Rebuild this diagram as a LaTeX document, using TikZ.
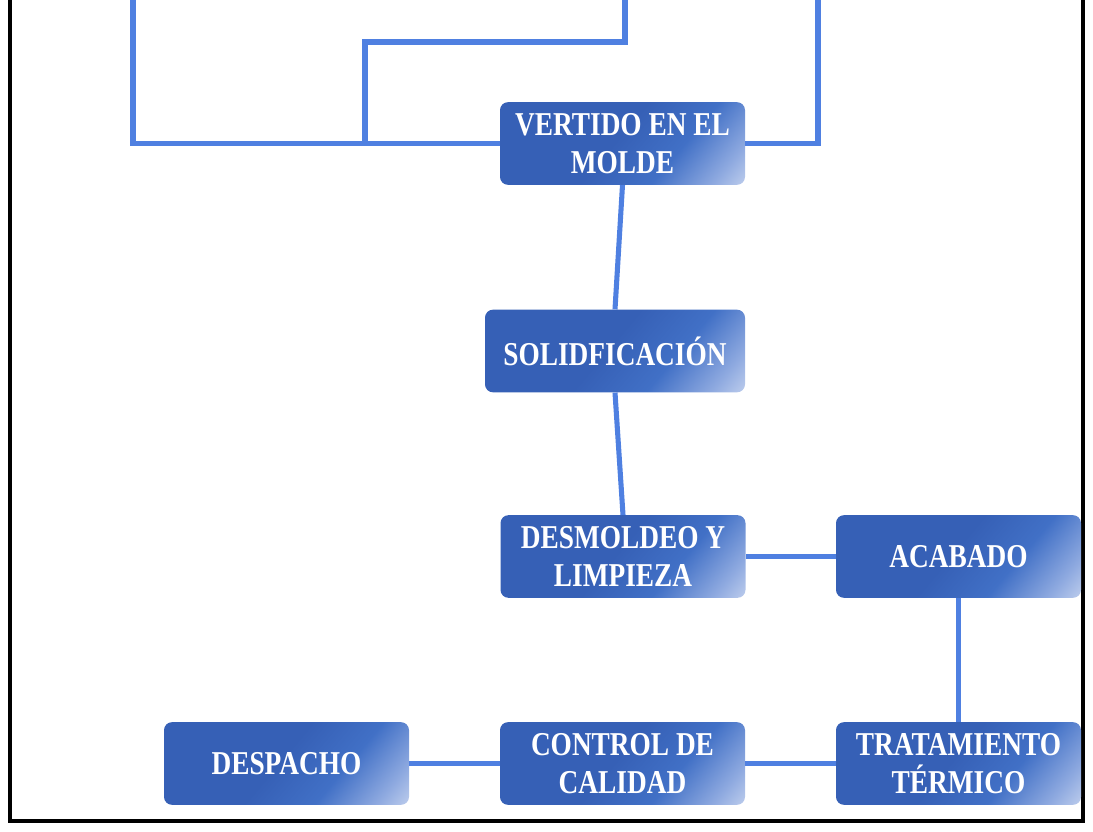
\documentclass[tikz,border=0pt]{standalone}
\usepackage{fontspec}
\setmainfont{Liberation Serif}
\newfontfamily\boxfont[FakeStretch=0.82]{Liberation Serif}
\usetikzlibrary{positioning}
\definecolor{linec}{HTML}{4F80E1}
\definecolor{bdark}{HTML}{3660B6}
\definecolor{bmid}{HTML}{4170C6}
\definecolor{blight}{HTML}{8FAAE0}
\definecolor{bwhite}{HTML}{E6ECF8}
\pgfdeclarehorizontalshading{boxshade}{100bp}{color(0bp)=(bdark); color(48bp)=(bdark); color(64bp)=(bmid); color(78bp)=(blight); color(92bp)=(bwhite); color(100bp)=(bwhite)}
\tikzset{
  stepbox/.style={rounded corners=6pt, shading=boxshade, shading angle=-40,
    minimum width=183.75pt, minimum height=62pt, inner sep=0pt, align=center,
    text=white, font=\boxfont\bfseries\fontsize{25}{28.5}\selectfont},
  conn/.style={draw=linec, line width=3.8pt},
  frame/.style={draw=black, line width=3.2pt}
}
\begin{document}
\begin{tikzpicture}[x=0.75pt,y=-0.75pt]
\useasboundingbox (0,0) rectangle (1093,832);
\begin{scope}
\clip (0,0) rectangle (1093,832);
\draw[frame] (10,-20) -- (10,821) -- (1083,821) -- (1083,-20);
\end{scope}
\node[stepbox] (vert) at (622.5,143.5) {VERTIDO EN EL\\MOLDE};
\node[stepbox, minimum width=195pt] (solid) at (615,351) {SOLIDFICACIÓN};
\node[stepbox] (desm) at (623,556.5) {DESMOLDEO Y\\LIMPIEZA};
\node[stepbox] (acab) at (958.5,556.5) {ACABADO};
\node[stepbox] (desp) at (286.5,763.5) {DESPACHO};
\node[stepbox] (ctrl) at (622.5,763.5) {CONTROL DE\\CALIDAD};
\node[stepbox] (trat) at (958.5,763.5) {TRATAMIENTO\\TÉRMICO};
\coordinate (topL) at (133,-5);
\coordinate (topM) at (625,-5);
\coordinate (bendM) at (625,42);
\coordinate (jM) at (365,143.5);
\coordinate (topR) at (818,-5);
\begin{scope}
\clip (0,0) rectangle (1093,832);
\draw[conn] (vert.west) -| (topL);
\draw[conn] (topM) -- (bendM) -| (jM);
\draw[conn] (vert.east) -| (topR);
\end{scope}
\draw[conn] (vert.south) -- (solid.north);
\draw[conn] (solid.south) -- (desm.north);
\draw[conn] (desm.east) -- (acab.west);
\draw[conn] (acab.south) -- (trat.north);
\draw[conn] (ctrl.east) -- (trat.west);
\draw[conn] (desp.east) -- (ctrl.west);
\end{tikzpicture}
\end{document}
